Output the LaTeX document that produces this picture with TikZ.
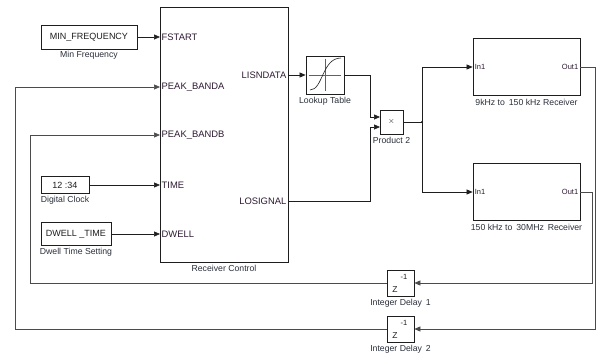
\documentclass[tikz,border=0pt]{standalone}
\usepackage{fontspec}
\setmainfont{Liberation Sans}
\usetikzlibrary{arrows.meta,positioning}
\definecolor{ink}{HTML}{1E1E1E}
\definecolor{portink}{HTML}{2E1A33}
\definecolor{capink}{HTML}{2A2F3A}

\begin{document}
\begin{tikzpicture}[
  x=1pt,y=-1pt,
  every node/.style={font=\fontsize{9}{10}\selectfont,text=ink},
  blk/.style={draw=ink,line width=0.8pt,fill=white,inner sep=0pt},
  caption/.style={font=\fontsize{8.7}{10}\selectfont,text=capink,inner sep=1pt},
  portlbl/.style={font=\fontsize{9.4}{10}\selectfont,text=portink,inner sep=1.5pt},
  smallport/.style={font=\fontsize{7.5}{8}\selectfont,text=portink,inner sep=2pt},
  sig/.style={draw=ink,line width=0.6pt,-{Triangle[length=6pt,width=5pt]}},
  wire/.style={draw=ink,line width=0.6pt},
  fback/.style={draw=ink!80,line width=0.6pt,-{Triangle[length=6pt,width=5pt]}}
]
\useasboundingbox (0,0) rectangle (600,358);

% receiver control subsystem
\node[blk,minimum width=128pt,minimum height=255pt] (rc) at (224,134.5) {};
\coordinate (fstart) at (160,37);
\coordinate (pka) at (160,87);
\coordinate (pkb) at (160,135);
\coordinate (time) at (160,185);
\coordinate (dwellin) at (160,234);
\coordinate (lisn) at (288,75);
\coordinate (lo) at (288,201);
\node[portlbl,anchor=west] (tfstart) at (fstart) {FSTART};
\node[portlbl,anchor=west] (tpka) at (pka) {PEAK\_BANDA};
\node[portlbl,anchor=west] (tpkb) at (pkb) {PEAK\_BANDB};
\node[portlbl,anchor=west] (ttime) at (time) {TIME};
\node[portlbl,anchor=west] (tdwell) at (dwellin) {DWELL};
\node[portlbl,anchor=east] (tlisn) at (lisn) {LISNDATA};
\node[portlbl,anchor=east] (tlo) at (lo) {LOSIGNAL};
\node[caption,below=2pt of rc] (rccap) {Receiver Control};

% sources
\node[blk,minimum width=96pt,minimum height=24pt] (minf) at (89,37) {MIN\_FREQUENCY};
\node[caption,below=1pt of minf] (mincap) {Min Frequency};
\node[blk,minimum width=48pt,minimum height=17pt] (clock) at (65,185) {12 :34};
\node[caption,below=1pt of clock] (clockcap) {Digital Clock};
\node[blk,minimum width=70pt,minimum height=23pt] (dwell) at (76,234) {DWELL \_TIME};
\node[caption,below=1pt of dwell] (dwellcap) {Dwell Time Setting};

\draw[sig] (minf.east) -- (fstart);
\draw[sig] (clock.east) -- (time);
\draw[sig] (dwell.east) -- (dwellin);

% lookup table and product
\node[blk,minimum width=38pt,minimum height=38pt] (lut) at (325,75) {};
\draw[ink!70,line width=0.5pt] ([xshift=3pt]lut.west) -- ([xshift=-3pt]lut.east);
\draw[ink!70,line width=0.5pt] ([yshift=-3pt]lut.north) -- ([yshift=3pt]lut.south);
\draw[ink,line width=0.6pt] (310,90) .. controls (323,90) and (322,58) .. (341,58);
\node[caption,below=2pt of lut] (lutcap) {Lookup Table};

\node[blk,minimum width=23pt,minimum height=24pt,font=\fontsize{8}{9}\selectfont] (prod) at (391.5,122) {$\times$};
\node[caption,below=2pt of prod] (prodcap) {Product 2};
\coordinate (p1) at (380,117);
\coordinate (p2) at (380,127);

\draw[sig] (lisn) -- (lut.west);
\draw[sig] (lut.east) -- ++(26,0) |- (p1);
\draw[sig] (lo) -- ++(82,0) |- (p2);

% receivers
\node[blk,minimum width=107pt,minimum height=57pt] (rx1) at (526.5,67) {};
\node[smallport,anchor=west] (rx1in) at (rx1.west) {In1};
\node[smallport,anchor=east] (rx1out) at (rx1.east) {Out1};
\node[caption,below=2pt of rx1] (rx1cap) {9kHz to \,150 kHz Receiver};
\node[blk,minimum width=107pt,minimum height=57pt] (rx2) at (526.5,192) {};
\node[smallport,anchor=west] (rx2in) at (rx2.west) {In1};
\node[smallport,anchor=east] (rx2out) at (rx2.east) {Out1};
\node[caption,below=2pt of rx2] (rx2cap) {150 kHz to \,30MHz \,Receiver};

\coordinate (jn) at (422,122);
\draw[wire] (prod.east) -- (jn);
\fill[ink] (jn) circle (1.1pt);
\draw[sig] (jn) |- (rx1.west);
\draw[sig] (jn) |- (rx2.west);

% delays
\node[blk,minimum width=27pt,minimum height=26pt] (d1) at (400.5,283) {};
\node[font=\fontsize{7.5}{8}\selectfont,inner sep=0pt] (d1exp) at (404,277) {-1};
\node[font=\fontsize{8.5}{9}\selectfont,inner sep=0pt] (d1z) at (395,290) {Z};
\node[caption,below=2pt of d1] (d1cap) {Integer Delay \,1};
\node[blk,minimum width=27pt,minimum height=26pt] (d2) at (400.5,329) {};
\node[font=\fontsize{7.5}{8}\selectfont,inner sep=0pt] (d2exp) at (404,323) {-1};
\node[font=\fontsize{8.5}{9}\selectfont,inner sep=0pt] (d2z) at (395,336) {Z};
\node[caption,below=2pt of d2] (d2cap) {Integer Delay \,2};

\draw[fback] (rx1.east) -- ++(15,0) |- (d2.east);
\draw[fback] (rx2.east) -- ++(12,0) |- (d1.east);

% feedback into the controller
\draw[fback] (d1.west) -| ([xshift=-130pt]pkb) -- (pkb);
\draw[fback] (d2.west) -| ([xshift=-145pt]pka) -- (pka);
\end{tikzpicture}
\end{document}
